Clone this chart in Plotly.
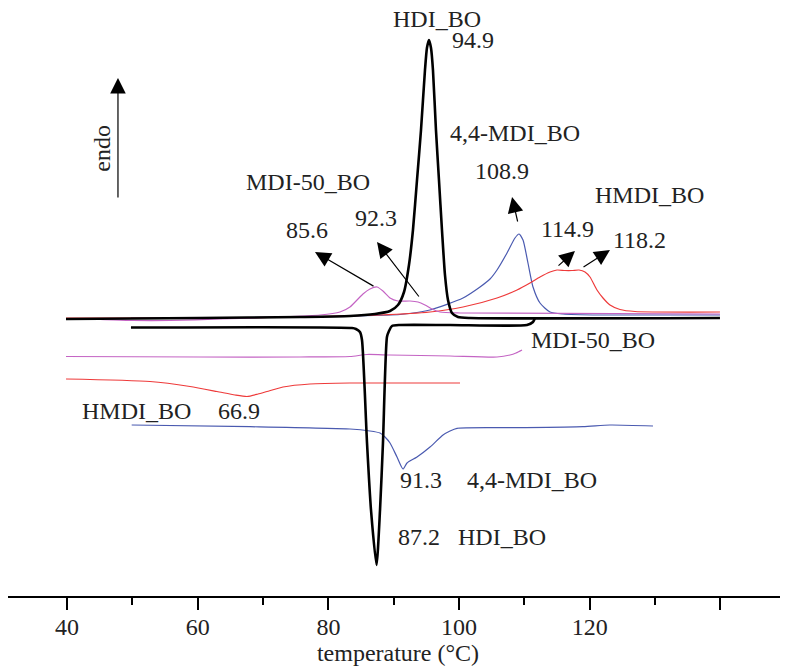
import plotly.graph_objects as go

# ---------------- data (temperature in °C, heat flow in arbitrary units, endo up) -------------
# heating scans (upper group)
hdi_heat_T = [39.85, 60.35, 75.65, 83.30, 87.13, 89.43, 90.65, 91.57, 92.33, 92.94, 93.56, 94.17, 94.78,
              95.08, 95.39, 95.70, 96.00, 96.46, 96.92, 97.38, 97.84, 98.30, 98.91, 99.83, 101.67, 139.92]
hdi_heat_q = [277, 278, 279, 280, 282, 285, 291, 304, 331, 366, 416, 466, 526,
              548, 556, 548, 526, 466, 416, 366, 321, 296, 283, 279, 278, 278]

mdi50_heat_T = [39.85, 45.05, 50.10, 55.76, 63.41, 72.59, 78.71, 81.77, 83.30, 85.29, 86.36, 87.44, 88.35,
                89.43, 90.65, 92.49, 93.71, 94.78, 95.85, 97.08, 100.14, 139.92]
mdi50_heat_q = [277, 276.5, 275.5, 275.5, 277, 279, 281, 284, 289, 302, 307, 309, 305,
                298, 295, 295, 294, 291, 287, 284, 283, 282]

hmdi_heat_T = [39.85, 60.35, 75.65, 87.90, 95.55, 100.60, 105.80, 108.86, 110.85, 112.38, 113.91, 114.98,
               116.20, 117.28, 118.35, 119.27, 120.03, 121.10, 122.02, 123.09, 124.62, 126.92, 139.92]
hmdi_heat_q = [278, 278, 279, 281, 284, 289, 298, 306, 313, 319, 324, 326,
               325.5, 325.5, 326, 324, 319, 306, 298, 291, 286.5, 284.5, 284]

mdi44_heat_T = [49.79, 68.00, 83.30, 90.96, 95.55, 100.60, 103.20, 104.73, 105.80, 107.33, 108.55, 109.17,
                109.78, 110.54, 111.31, 112.38, 113.91, 115.90, 121.56, 139.92]
mdi44_heat_q = [278, 278.5, 280, 281.5, 286, 298, 309, 317, 326, 343, 358, 362,
                356, 333, 309, 293, 284, 282, 281, 281]

# cooling scans (lower group)
hdi_cool_T = [111.61, 111.31, 110.39, 98.61, 90.96, 89.73, 89.27, 88.96, 88.35, 87.90, 87.36,
              86.52, 85.91, 85.14, 84.83, 84.22, 83.61, 49.79]
hdi_cool_q = [278, 274, 271, 271, 271, 270, 265, 259, 153, 86, 31,
              86, 153, 256, 264, 267, 268, 268.5]

mdi50_cool_T = [39.85, 60.35, 75.65, 83.30, 85.91, 89.43, 98.61, 105.80, 107.79, 108.71, 109.63]
mdi50_cool_q = [239.5, 239, 239, 239.5, 241.5, 241, 240, 239, 241, 243, 246]

hmdi_cool_T = [39.85, 52.70, 58.82, 62.95, 65.71, 67.54, 69.23, 70.60, 73.05, 77.18, 83.30, 100.14]
hmdi_cool_q = [217, 214.5, 209.5, 204.5, 201, 199.5, 202, 204.5, 209, 212, 213, 213]

mdi44_cool_T = [49.90, 68.00, 83.30, 86.36, 87.90, 88.66, 89.43, 90.50, 91.42, 92.03, 93.56, 95.55,
                97.54, 98.61, 99.68, 108.86, 118.96, 123.09, 129.67]
mdi44_cool_q = [171, 169.3, 167, 165, 163, 159, 153, 139, 127, 133, 139, 149,
                161, 165, 167.7, 168.3, 169.3, 171, 170]

tick_vals = [40, 60, 80, 100, 120, 140]
tick_text = ["40", "60", "80", "100", "120", ""]
minor_vals = [30, 50, 70, 90, 110, 130, 150]

# text labels: (text, T, q)
labels = [
    ("HDI_BO", 96.62, 577), ("94.9", 102.20, 556.5),
    ("4,4-MDI_BO", 108.63, 463.5), ("108.9", 106.64, 425.5),
    ("MDI-50_BO", 76.95, 414), ("85.6", 76.65, 366), ("92.3", 87.28, 378),
    ("114.9", 116.66, 367), ("118.2", 127.68, 356), ("HMDI_BO", 129.21, 401),
    ("MDI-50_BO", 120.49, 256.5),
    ("HMDI_BO", 50.56, 185.5), ("66.9", 66.32, 185.5),
    ("91.3", 94.17, 116), ("4,4-MDI_BO", 111.08, 116),
    ("87.2", 93.86, 59.5), ("HDI_BO", 106.56, 59.5),
]
# arrows: (tip T, tip q, tail T, tail q)
arrows = [
    (47.80, 518, 47.80, 397),
    (77.95, 344, 87.13, 309),
    (87.44, 354, 94.02, 298),
    (108.10, 399, 109.01, 373),
    (117.73, 345, 114.98, 329),
    (123.09, 346, 118.81, 328),
]

# ---------------- figure ----------------
FONT = "Liberation Serif, Times New Roman, serif"
TXT = "#222222"
PURPLE = "#c464c4"
RED = "#ee3a3a"
BLUE = "#4a5ab0"

fig = go.Figure()
series = [
    (mdi50_cool_T, mdi50_cool_q, PURPLE, 1.2),
    (hmdi_cool_T, hmdi_cool_q, RED, 1.2),
    (mdi44_cool_T, mdi44_cool_q, BLUE, 1.2),
    (mdi44_heat_T, mdi44_heat_q, BLUE, 1.2),
    (hmdi_heat_T, hmdi_heat_q, RED, 1.2),
    (mdi50_heat_T, mdi50_heat_q, PURPLE, 1.2),
    (hdi_cool_T, hdi_cool_q, "black", 2.6),
    (hdi_heat_T, hdi_heat_q, "black", 2.6),
]
for xs, ys, col, w in series:
    fig.add_trace(go.Scatter(x=xs, y=ys, mode="lines",
                             line=dict(color=col, width=w, shape="spline", smoothing=0.6),
                             showlegend=False, hoverinfo="skip"))

annotations = []
for txt, tx, ty in labels:
    annotations.append(dict(text=txt, x=tx, y=ty, xref="x", yref="y", showarrow=False,
                            font=dict(family=FONT, size=24, color=TXT)))
annotations.append(dict(text="endo", x=45.31, y=448, xref="x", yref="y", showarrow=False,
                        textangle=-90, font=dict(family=FONT, size=24, color=TXT)))
for x1, y1, x0, y0 in arrows:
    annotations.append(dict(text="", x=x1, y=y1, ax=x0, ay=y0, xref="x", yref="y",
                            axref="x", ayref="y", showarrow=True, arrowhead=2,
                            arrowsize=2.6, arrowwidth=1.2, arrowcolor="black", standoff=0))

# the page body has an 8px margin, so the figure is sized to fit the window
fig.update_layout(
    width=780, height=659,
    margin=dict(l=0, r=0, t=0, b=71, autoexpand=False),
    paper_bgcolor="white", plot_bgcolor="white",
    annotations=annotations,
    xaxis=dict(range=[30.972, 150.33], showgrid=False, zeroline=False,
               showline=True, linecolor="black", linewidth=2,
               ticks="outside", ticklen=12, tickwidth=2, tickcolor="black",
               tickvals=tick_vals, ticktext=tick_text, ticklabelstandoff=-4,
               tickfont=dict(family=FONT, size=24, color=TXT),
               minor=dict(tickvals=minor_vals, ticks="outside", ticklen=7, tickwidth=2,
                          tickcolor="black", showgrid=False),
               title=dict(text="temperature (°C)", font=dict(family=FONT, size=24, color=TXT),
                          standoff=4)),
    yaxis=dict(range=[0, 588], visible=False),
)

fig.write_html("out.html")
